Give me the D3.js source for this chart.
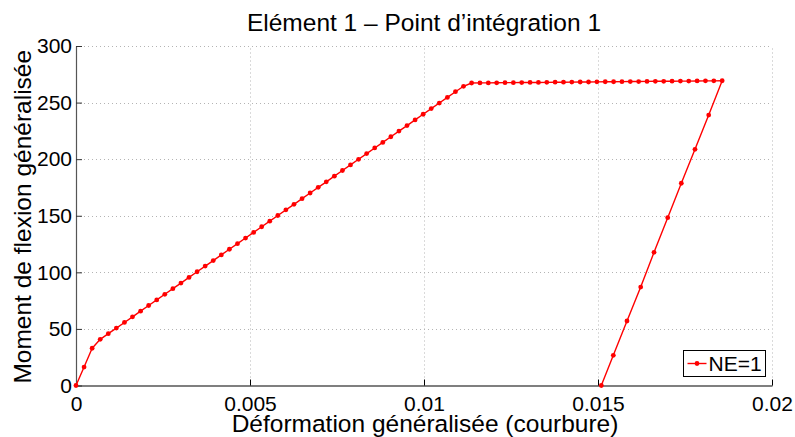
<!DOCTYPE html>
<html>
<head>
<meta charset="utf-8">
<script src="https://cdn.jsdelivr.net/npm/d3@7"></script>
<style>
  html, body { margin: 0; padding: 0; background: #fff; }
  svg { display: block; font-family: "Liberation Sans", Arial, Helvetica, sans-serif; }
</style>
</head>
<body>
<svg id="chart" width="795" height="437"></svg>
<script>
// Loading branch: curvature (generalised strain) and bending moment
const loadStrain = [
  0, 0.000232, 0.000464, 0.000696, 0.000928, 0.00116, 0.001392, 0.001624, 0.001856, 0.002088,
  0.00232, 0.002552, 0.002784, 0.003016, 0.003248, 0.00348, 0.003712, 0.003944, 0.004176, 0.004408,
  0.00464, 0.004872, 0.005104, 0.005336, 0.005568, 0.0058, 0.006032, 0.006264, 0.006496, 0.006728,
  0.00696, 0.007192, 0.007424, 0.007656, 0.007888, 0.00812, 0.008352, 0.008584, 0.008816, 0.009048,
  0.00928, 0.009512, 0.009744, 0.009976, 0.010208, 0.01044, 0.010672, 0.010904, 0.011136, 0.011368
];
const loadMoment = [
  0, 16.3, 32.9, 40.8, 45.8, 50.7, 55.7, 60.7, 65.7, 70.7,
  75.6, 80.6, 85.6, 90.5, 95.5, 100.5, 105.5, 110.4, 115.4, 120.4,
  125.3, 130.3, 135.3, 140.3, 145.2, 150.2, 155.2, 160.1, 165.1, 170.1,
  175.1, 180.0, 185.0, 190.0, 194.9, 199.9, 204.9, 209.9, 214.8, 219.8,
  224.8, 229.7, 234.7, 239.7, 244.7, 249.6, 254.6, 259.6, 264.4, 267.3
];

// Plastic plateau
const plateauStrain = [
  0.011608, 0.011848, 0.012088, 0.012328, 0.012568, 0.012808, 0.013048, 0.013288, 0.013528, 0.013768,
  0.014008, 0.014248, 0.014488, 0.014728, 0.014968, 0.015208, 0.015448, 0.015688, 0.015928, 0.016168,
  0.016408, 0.016648, 0.016888, 0.017128, 0.017368, 0.017608, 0.017848, 0.018088, 0.018328, 0.018568
];
const plateauMoment = [
  267.4, 267.4, 267.5, 267.6, 267.6, 267.7, 267.8, 267.8, 267.9, 268.0,
  268.0, 268.1, 268.2, 268.2, 268.3, 268.4, 268.4, 268.5, 268.6, 268.6,
  268.7, 268.8, 268.8, 268.9, 269.0, 269.0, 269.1, 269.2, 269.2, 269.3
];

// Elastic unloading
const unloadStrain = [0.018181, 0.017787, 0.017394, 0.017003, 0.01661, 0.016227, 0.015833, 0.01544, 0.015095];
const unloadMoment = [239.0, 208.7, 178.7, 148.3, 117.7, 87.0, 57.0, 26.7, 0];

const xTicks = [0, 0.005, 0.01, 0.015, 0.02];
const xTickLabels = ["0", "0.005", "0.01", "0.015", "0.02"];
const yTicks = [0, 50, 100, 150, 200, 250, 300];
const yTickLabels = ["0", "50", "100", "150", "200", "250", "300"];

const titleText = "Elément 1 \u2013 Point d\u2019intégration 1";
const xLabel = "Déformation généralisée (courbure)";
const yLabel = "Moment de flexion généralisée";
const seriesName = "NE=1";

const strain = loadStrain.concat(plateauStrain, unloadStrain);
const moment = loadMoment.concat(plateauMoment, unloadMoment);
const points = strain.map((s, i) => ({ x: s, y: moment[i] }));

const svg = d3.select("#chart");
const plotLeft = 76, plotRight = 772, plotTop = 46, plotBottom = 385.5;

const x = d3.scaleLinear().domain([0, 0.02]).range([plotLeft, plotRight]);
const y = d3.scaleLinear().domain([0, 300]).range([plotBottom, plotTop]);

// Dotted grid
const grid = svg.append("g").attr("stroke", "#b4b4b4").attr("stroke-width", 1)
  .attr("stroke-dasharray", "1,3");
grid.selectAll("line.gx").data(xTicks.slice(1)).join("line")
  .attr("x1", d => Math.round(x(d)) + 0.5).attr("x2", d => Math.round(x(d)) + 0.5)
  .attr("y1", plotBottom).attr("y2", plotTop);
grid.selectAll("line.gy").data(yTicks.slice(1)).join("line")
  .attr("x1", plotLeft).attr("x2", plotRight)
  .attr("y1", d => Math.round(y(d)) + 0.5).attr("y2", d => Math.round(y(d)) + 0.5);

// Axes with inward ticks
const xAxis = d3.axisBottom(x).tickValues(xTicks).tickFormat((d, i) => xTickLabels[i])
  .tickSizeInner(-6).tickSizeOuter(0).tickPadding(11);
const gx = svg.append("g").attr("transform", `translate(0,${plotBottom})`).call(xAxis);
gx.select(".domain").attr("stroke", "#000").attr("stroke-width", 1.2);
gx.selectAll(".tick line").attr("stroke", "#000");
gx.selectAll(".tick text").attr("font-size", 21).attr("fill", "#000")
  .attr("font-family", "Liberation Sans, Arial, sans-serif");

const yAxis = d3.axisLeft(y).tickValues(yTicks).tickFormat((d, i) => yTickLabels[i])
  .tickSizeInner(-6).tickSizeOuter(0).tickPadding(4);
const gy = svg.append("g").attr("transform", `translate(${plotLeft},0)`).call(yAxis);
gy.select(".domain").attr("stroke", "#555").attr("stroke-width", 1.2);
gy.selectAll(".tick line").attr("stroke", "#333");
gy.selectAll(".tick text").attr("font-size", 21).attr("fill", "#000")
  .attr("font-family", "Liberation Sans, Arial, sans-serif");

// Curve and markers
const line = d3.line().x(d => x(d.x)).y(d => y(d.y));
svg.append("path").datum(points)
  .attr("fill", "none").attr("stroke", "#ff0000").attr("stroke-width", 1.4)
  .attr("stroke-linejoin", "round").attr("d", line);
svg.append("g").selectAll("circle").data(points).join("circle")
  .attr("cx", d => x(d.x)).attr("cy", d => y(d.y)).attr("r", 2.4)
  .attr("fill", "#ff0000");

// Title and axis labels
svg.append("text").attr("x", 424).attr("y", 31).attr("text-anchor", "middle")
  .attr("font-size", 24.5).attr("fill", "#000").text(titleText);
svg.append("text").attr("x", 425).attr("y", 432).attr("text-anchor", "middle")
  .attr("font-size", 24.5).attr("fill", "#000").text(xLabel);
svg.append("text").attr("transform", `translate(31,${(plotTop + plotBottom) / 2 + 1}) rotate(-90)`)
  .attr("text-anchor", "middle").attr("font-size", 24.5).attr("fill", "#000").text(yLabel);

// Legend
const lg = svg.append("g").attr("transform", "translate(683.5,350.5)");
lg.append("rect").attr("width", 82).attr("height", 26)
  .attr("fill", "#fff").attr("stroke", "#000").attr("stroke-width", 1);
lg.append("line").attr("x1", 4).attr("x2", 23).attr("y1", 13).attr("y2", 13)
  .attr("stroke", "#ff0000").attr("stroke-width", 1.4);
lg.append("circle").attr("cx", 13.5).attr("cy", 13).attr("r", 2.4).attr("fill", "#ff0000");
lg.append("text").attr("x", 25).attr("y", 20.5).attr("font-size", 21).attr("fill", "#000")
  .text(seriesName);
</script>
</body>
</html>
